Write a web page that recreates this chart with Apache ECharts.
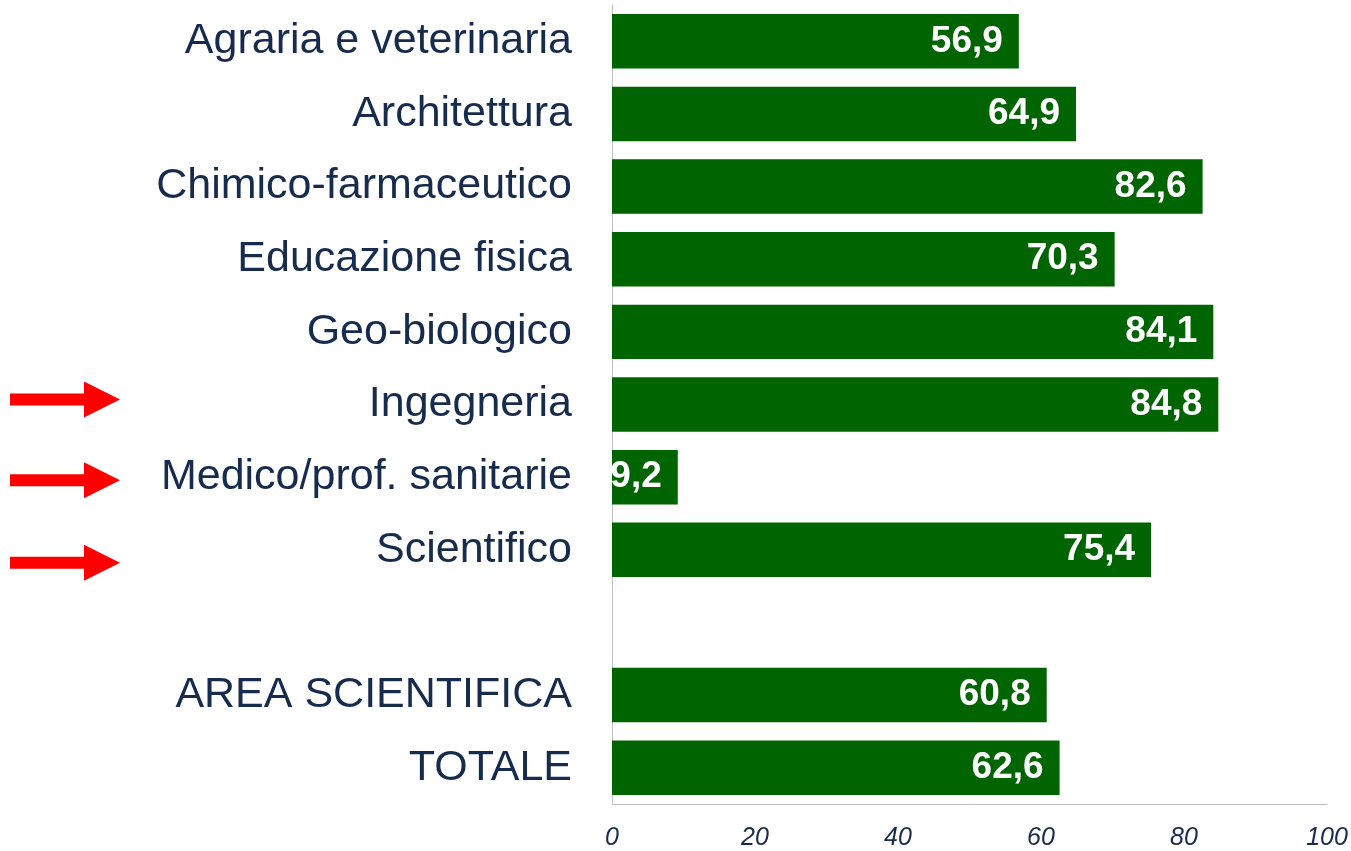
<!DOCTYPE html>
<html>
<head>
<meta charset="utf-8">
<script src="https://cdn.jsdelivr.net/npm/echarts@6/dist/echarts.min.js"></script>
<style>html,body{margin:0;padding:0;background:#fff;}#c{width:1351px;height:851px;}</style>
</head>
<body>
<div id="c"></div>
<script>
var categories = ['Agraria e veterinaria','Architettura','Chimico-farmaceutico','Educazione fisica','Geo-biologico','Ingegneria','Medico/prof. sanitarie','Scientifico','','AREA SCIENTIFICA','TOTALE'];
var values = [56.9, 64.9, 82.6, 70.3, 84.1, 84.8, 9.2, 75.4, null, 60.8, 62.6];
var xTicks = [0, 20, 40, 60, 80, 100];
var arrowCategories = ['Ingegneria','Medico/prof. sanitarie','Scientifico'];
var arrowOffsets = [-5, 3, 13];

var chart = echarts.init(document.getElementById('c'));
var navy = '#172B4D';
var option = {
  animation: false,
  grid: {left: 612, right: 24, top: 5, bottom: 44, containLabel: false},
  xAxis: {
    type: 'value', min: xTicks[0], max: xTicks[xTicks.length-1], interval: 20,
    axisLine: {show: true, lineStyle: {color: '#BFBFBF', width: 1}},
    axisTick: {show: false},
    splitLine: {show: false},
    axisLabel: {color: navy, fontSize: 25, fontStyle: 'italic', fontFamily: 'Liberation Sans', margin: 22}
  },
  yAxis: {
    type: 'category', data: categories, inverse: true,
    axisLine: {show: true, lineStyle: {color: '#BFBFBF', width: 1}},
    axisTick: {show: false},
    axisLabel: {color: navy, fontSize: 43, fontFamily: 'Liberation Sans', margin: 40, padding: [6, 0, 0, 0]}
  },
  series: [{
    type: 'bar', data: values, barCategoryGap: '25%',
    itemStyle: {color: '#006400'},
    label: {
      show: true, position: 'insideRight', distance: 16,
      color: '#fff', fontSize: 37, fontWeight: 'bold', fontFamily: 'Liberation Sans',
      padding: [4, 0, 0, 0],
      formatter: function(p){ return p.value == null ? '' : p.value.toFixed(1).replace('.', ','); }
    }
  }]
};
chart.setOption(option);

var graphics = [];
arrowCategories.forEach(function(cat, i){
  var y = chart.convertToPixel({yAxisIndex: 0}, cat) + arrowOffsets[i];
  graphics.push({
    type: 'polygon',
    shape: {points: [[10, y-6],[84, y-6],[84, y-18],[120, y],[84, y+18],[84, y+6],[10, y+6]]},
    style: {fill: '#FF0000'}
  });
});
chart.setOption({graphic: graphics});
</script>
</body>
</html>
